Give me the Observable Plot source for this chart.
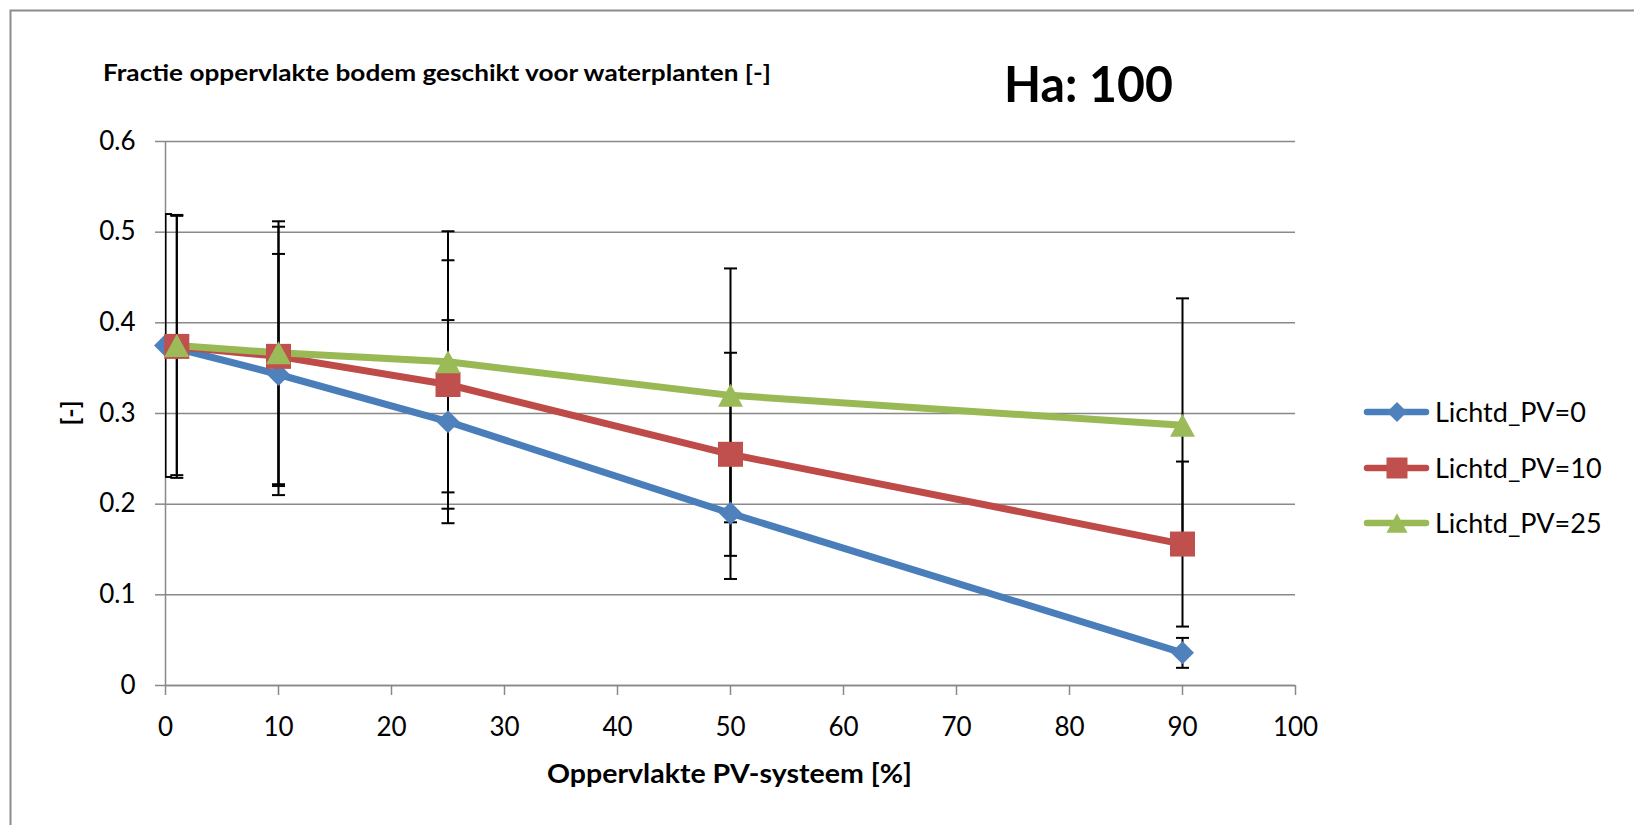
<!DOCTYPE html>
<html>
<head>
<meta charset="utf-8">
<script src="https://cdn.jsdelivr.net/npm/d3@7"></script>
<script src="https://cdn.jsdelivr.net/npm/@observablehq/plot@0.6"></script>
<style>
  html, body { margin: 0; padding: 0; background: #fff; }
  #wrap { position: relative; width: 1634px; height: 825px; overflow: hidden; font-family: Lato, "Open Sans", sans-serif; }
  #wrap > svg { position: absolute; left: 0; top: 0; }
</style>
</head>
<body>
<div id="wrap"></div>
<script>
// ---- data ----
const pvAreaSeries0 = [0, 10, 25, 50, 90];   // x positions of Lichtd_PV=0
const pvAreaOther   = [1, 10, 25, 50, 90];   // x positions of Lichtd_PV=10 and 25
const seriesNames = ["Lichtd_PV=0", "Lichtd_PV=10", "Lichtd_PV=25"];
const frac0  = [0.375, 0.343, 0.291, 0.190, 0.036];
const frac10 = [0.374, 0.363, 0.332, 0.255, 0.156];
const frac25 = [0.375, 0.367, 0.357, 0.320, 0.287];
const err0  = [0.145, 0.133, 0.112, 0.0725, 0.0165];
const err10 = [0.145, 0.143, 0.137, 0.112, 0.091];
const err25 = [0.143, 0.145, 0.144, 0.140, 0.140];
const xTicks = [0, 10, 20, 30, 40, 50, 60, 70, 80, 90, 100];
const yTicks = [0, 0.1, 0.2, 0.3, 0.4, 0.5, 0.6];
const titleText = "Fractie oppervlakte bodem geschikt voor waterplanten [-]";
const subText = "Ha: 100";
const xTitle = "Oppervlakte PV-systeem [%]";
const yTitle = "[-]";

// ---- styles ----
const lineColors = ["#4A7EBB", "#BE4B48", "#98B954"];
const markColors = ["#4F81BD", "#C0504D", "#9BBB59"];
const gridColor = "#898989";

// custom symbols (r = half size)
const symDiamond = {draw(ctx, size) { const r = Math.sqrt(size / Math.PI); ctx.moveTo(0, -r); ctx.lineTo(r, 0); ctx.lineTo(0, r); ctx.lineTo(-r, 0); ctx.closePath(); }};
const symSquare = {draw(ctx, size) { const r = Math.sqrt(size / Math.PI); ctx.rect(-r, -r, 2 * r, 2 * r); }};
const symTriangle = {draw(ctx, size) { const r = Math.sqrt(size / Math.PI); const h = 1.84 * r; ctx.moveTo(0, -h / 2); ctx.lineTo(r, h / 2); ctx.lineTo(-r, h / 2); ctx.closePath(); }};
const symCap = {draw(ctx, size) { const r = Math.sqrt(size / Math.PI); ctx.moveTo(-r, 0); ctx.lineTo(r, 0); }};
const symbols = [symDiamond, symSquare, symTriangle];
const markR = [11.5, 12.5, 12.5];
const legendR = [10, 10.5, 10.5];

const xsList = [pvAreaSeries0, pvAreaOther, pvAreaOther];
const valsList = [frac0, frac10, frac25];
const errsList = [err0, err10, err25];
const series = seriesNames.map((name, i) => ({
  name, i,
  rows: xsList[i].map((x, j) => ({x, y: valsList[i][j], e: errsList[i][j]}))
}));
const allRows = series.flatMap(s => s.rows);

const marks = [
  Plot.gridY(yTicks, {stroke: gridColor, strokeOpacity: 1, strokeWidth: 1.5}),
  Plot.axisY(yTicks, {tickSize: 10, tickPadding: 20, stroke: gridColor, strokeWidth: 1.5, fill: "#000", fontSize: 26, label: null, tickFormat: d => String(d)}),
  Plot.axisX(xTicks, {tickSize: 10, tickPadding: 22, stroke: gridColor, strokeWidth: 1.5, fill: "#000", fontSize: 26, label: null, tickFormat: d => String(d)}),
  Plot.ruleX([0], {stroke: gridColor, strokeWidth: 1.5}),
  Plot.ruleY([0], {stroke: gridColor, strokeWidth: 1.5}),
  // error bars
  Plot.ruleX(allRows, {x: "x", y1: d => d.y - d.e, y2: d => d.y + d.e, stroke: "#000", strokeWidth: 2, clip: true}),
  Plot.dot(allRows, {x: "x", y: d => d.y - d.e, symbol: symCap, r: 6.5, fill: "none", stroke: "#000", strokeWidth: 2, clip: true}),
  Plot.dot(allRows, {x: "x", y: d => d.y + d.e, symbol: symCap, r: 6.5, fill: "none", stroke: "#000", strokeWidth: 2, clip: true})
];
series.forEach(s => {
  marks.push(Plot.line(s.rows, {x: "x", y: "y", stroke: lineColors[s.i], strokeWidth: 7, strokeLinejoin: "round", strokeLinecap: "round"}));
});
series.forEach(s => {
  marks.push(Plot.dot(s.rows, {x: "x", y: "y", symbol: symbols[s.i], r: markR[s.i], fill: markColors[s.i], stroke: "none"}));
});

const chart = Plot.plot({
  width: 1634,
  height: 825,
  marginLeft: 165,
  marginRight: 339,
  marginTop: 141,
  marginBottom: 140,
  x: {domain: [0, 100]},
  y: {domain: [0, 0.6]},
  style: {fontFamily: "Lato, 'Open Sans', sans-serif", fontSize: "26px", color: "#000", background: "transparent", overflow: "visible"},
  marks
});
const wrap = document.getElementById("wrap");
wrap.appendChild(chart);

// ---- overlay: border, titles, legend ----
const ov = d3.select(wrap).append("svg")
  .attr("width", 1634).attr("height", 825)
  .style("font-family", "Lato, 'Open Sans', sans-serif")
  .style("pointer-events", "none");

ov.append("path").attr("d", "M10.5,830V10.5H1640").attr("fill", "none").attr("stroke", "#8c8c8c").attr("stroke-width", 2);

ov.append("text").attr("x", 103).attr("y", 81).attr("font-size", 23).attr("font-weight", 700).attr("fill", "#000")
  .attr("textLength", 668).attr("lengthAdjust", "spacingAndGlyphs").text(titleText);
ov.append("text").attr("x", 1004).attr("y", 102).attr("font-size", 49).attr("font-weight", 700).attr("fill", "#000")
  .attr("textLength", 169).attr("lengthAdjust", "spacingAndGlyphs").text(subText);
ov.append("text").attr("x", 547).attr("y", 783).attr("font-size", 26).attr("font-weight", 700).attr("fill", "#000")
  .attr("textLength", 365).attr("lengthAdjust", "spacingAndGlyphs").text(xTitle);
ov.append("text").attr("transform", "translate(79,413) rotate(-90)").attr("text-anchor", "middle").attr("font-size", 25).attr("font-weight", 700).attr("fill", "#000").text(yTitle);

const legendY = [412, 468, 523];
seriesNames.forEach((name, i) => {
  const g = ov.append("g").attr("transform", `translate(0,${legendY[i]})`);
  g.append("line").attr("x1", 1367).attr("x2", 1426).attr("y1", 0).attr("y2", 0)
    .attr("stroke", lineColors[i]).attr("stroke-width", 6.5).attr("stroke-linecap", "round");
  g.append("path").attr("transform", "translate(1397,0)")
    .attr("d", d3.symbol().type(symbols[i]).size(Math.PI * legendR[i] * legendR[i])())
    .attr("fill", markColors[i]);
  g.append("text").attr("x", 1435).attr("y", 10).attr("font-size", 27).attr("fill", "#000").text(name);
});
</script>
</body>
</html>
